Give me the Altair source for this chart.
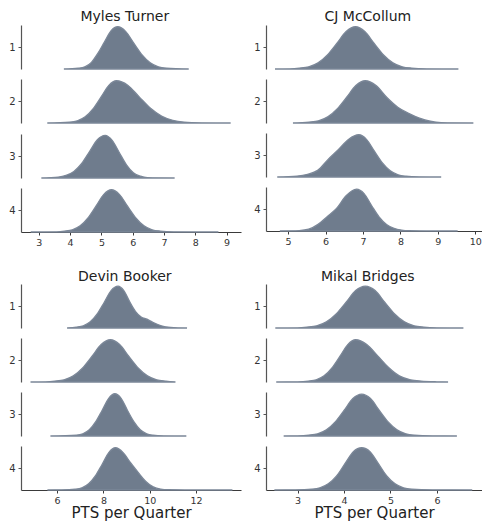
import altair as alt
import pandas as pd

QUARTERS = [1, 2, 3, 4]
PLAYERS = ["Myles Turner", "CJ McCollum", "Devin Booker", "Mikal Bridges"]

# ---- density curves (x = PTS, h = relative height in each row) ----
TURNER_X = [
    [3.80, 4.26, 4.47, 4.68, 4.89, 5.10, 5.31, 5.52, 5.78, 6.04, 6.30, 6.56, 6.82, 7.08, 7.79],
    [3.27, 3.98, 4.23, 4.48, 4.73, 4.98, 5.23, 5.48, 5.84, 6.20, 6.56, 6.92, 7.28, 7.64, 8.20, 9.13],
    [3.08, 3.62, 3.87, 4.12, 4.37, 4.62, 4.87, 5.12, 5.35, 5.57, 5.80, 6.02, 6.25, 6.47, 7.34],
    [2.74, 3.57, 3.82, 4.07, 4.32, 4.57, 4.82, 5.07, 5.32, 5.58, 5.84, 6.10, 6.36, 6.62, 6.88, 7.30, 8.74],
]
TURNER_H = [
    [0, 0.02, 0.05, 0.15, 0.36, 0.62, 0.87, 0.96, 0.85, 0.58, 0.32, 0.14, 0.05, 0.02, 0],
    [0, 0.02, 0.05, 0.14, 0.32, 0.58, 0.85, 0.96, 0.86, 0.60, 0.34, 0.16, 0.06, 0.02, 0.005, 0],
    [0, 0.02, 0.06, 0.15, 0.33, 0.60, 0.87, 0.97, 0.85, 0.58, 0.30, 0.12, 0.04, 0.01, 0],
    [0, 0.005, 0.02, 0.05, 0.14, 0.32, 0.58, 0.85, 0.96, 0.85, 0.58, 0.32, 0.14, 0.05, 0.02, 0.005, 0],
]

MCCOLLUM_X = [
    [4.65, 5.05, 5.30, 5.55, 5.80, 6.05, 6.30, 6.55, 6.80, 7.05, 7.30, 7.55, 7.80, 8.05, 8.30, 8.70, 9.55],
    [5.13, 5.56, 5.81, 6.06, 6.31, 6.56, 6.81, 7.06, 7.35, 7.64, 7.93, 8.22, 8.51, 8.80, 9.09, 9.95],
    [4.71, 5.24, 5.52, 5.79, 6.07, 6.34, 6.62, 6.89, 7.10, 7.31, 7.52, 7.73, 7.94, 8.15, 8.50, 9.09],
    [4.78, 5.30, 5.55, 5.80, 6.05, 6.30, 6.55, 6.83, 7.03, 7.23, 7.43, 7.63, 7.83, 8.03, 8.23, 8.70, 9.53],
]
MCCOLLUM_H = [
    [0, 0.005, 0.02, 0.05, 0.14, 0.32, 0.58, 0.85, 0.96, 0.85, 0.58, 0.32, 0.14, 0.05, 0.02, 0.005, 0],
    [0, 0.02, 0.05, 0.14, 0.32, 0.58, 0.85, 0.96, 0.85, 0.58, 0.36, 0.22, 0.11, 0.04, 0.01, 0],
    [0, 0.02, 0.06, 0.15, 0.40, 0.62, 0.86, 0.96, 0.85, 0.58, 0.32, 0.14, 0.05, 0.02, 0.005, 0],
    [0, 0.01, 0.04, 0.15, 0.33, 0.52, 0.80, 0.95, 0.85, 0.58, 0.32, 0.15, 0.06, 0.02, 0.006, 0.002, 0],
]

BOOKER_X = [
    [6.43, 6.83, 7.13, 7.43, 7.73, 8.03, 8.33, 8.63, 8.88, 9.13, 9.38, 9.63, 9.88, 10.13, 10.50, 10.90, 11.61],
    [4.85, 5.50, 5.90, 6.30, 6.70, 7.10, 7.50, 7.90, 8.30, 8.70, 9.10, 9.50, 9.90, 10.30, 10.70, 11.11],
    [5.71, 6.84, 7.11, 7.39, 7.66, 7.94, 8.22, 8.49, 8.77, 9.04, 9.32, 9.59, 9.87, 10.14, 10.60, 11.58],
    [5.58, 6.20, 6.78, 7.07, 7.36, 7.65, 7.94, 8.23, 8.52, 8.85, 9.17, 9.50, 9.82, 10.15, 10.47, 10.80, 11.50, 13.57],
]
BOOKER_H = [
    [0, 0.02, 0.05, 0.14, 0.32, 0.58, 0.85, 0.95, 0.85, 0.60, 0.38, 0.25, 0.20, 0.13, 0.05, 0.015, 0],
    [0, 0.005, 0.02, 0.05, 0.14, 0.32, 0.58, 0.85, 0.96, 0.85, 0.58, 0.32, 0.14, 0.05, 0.02, 0],
    [0, 0.02, 0.05, 0.14, 0.32, 0.58, 0.85, 0.96, 0.85, 0.58, 0.32, 0.14, 0.05, 0.02, 0.005, 0],
    [0, 0.003, 0.02, 0.05, 0.14, 0.32, 0.58, 0.85, 0.96, 0.85, 0.62, 0.40, 0.20, 0.07, 0.02, 0.006, 0.002, 0],
]

BRIDGES_X = [
    [2.52, 3.00, 3.20, 3.41, 3.62, 3.83, 4.04, 4.25, 4.46, 4.67, 4.88, 5.09, 5.30, 5.51, 5.72, 6.00, 6.57],
    [2.54, 3.00, 3.23, 3.40, 3.57, 3.74, 3.91, 4.08, 4.25, 4.49, 4.72, 4.96, 5.19, 5.43, 5.66, 6.00, 6.24],
    [2.70, 3.00, 3.24, 3.43, 3.62, 3.81, 4.00, 4.19, 4.38, 4.57, 4.76, 4.95, 5.14, 5.33, 5.52, 5.90, 6.43],
    [2.50, 2.95, 3.30, 3.48, 3.66, 3.84, 4.02, 4.20, 4.38, 4.56, 4.74, 4.92, 5.10, 5.28, 5.46, 5.90, 6.76],
]
BRIDGES_H = [
    [0, 0.005, 0.02, 0.05, 0.14, 0.32, 0.58, 0.85, 0.95, 0.85, 0.58, 0.32, 0.14, 0.05, 0.02, 0.005, 0],
    [0, 0.004, 0.02, 0.05, 0.14, 0.32, 0.58, 0.85, 0.96, 0.85, 0.60, 0.33, 0.14, 0.05, 0.02, 0.004, 0],
    [0, 0.004, 0.02, 0.05, 0.14, 0.32, 0.58, 0.85, 0.95, 0.85, 0.58, 0.32, 0.14, 0.05, 0.02, 0.004, 0],
    [0, 0.004, 0.02, 0.05, 0.14, 0.32, 0.60, 0.87, 0.96, 0.87, 0.60, 0.32, 0.14, 0.05, 0.02, 0.004, 0],
]

# x-axis domains and tick labels per panel
TURNER_DOMAIN = [2.43, 9.46]
MCCOLLUM_DOMAIN = [4.41, 10.18]
BOOKER_DOMAIN = [4.44, 13.94]
BRIDGES_DOMAIN = [2.32, 6.97]
TURNER_TICKS = [3, 4, 5, 6, 7, 8, 9]
MCCOLLUM_TICKS = [5, 6, 7, 8, 9, 10]
BOOKER_TICKS = [6, 8, 10, 12]
BRIDGES_TICKS = [3, 4, 5, 6]

X_TITLE = "PTS per Quarter"

FILL = "#6f7c8d"
EDGE = "#7b8798"
AXIS_COLOR = "#3a3a3a"
FONT = "DejaVu Sans"


def panel(name, xs, hs, domain, ticks, width, show_title):
    rows = []
    for q, xl, hl in zip(QUARTERS, xs, hs):
        assert len(xl) == len(hl)
        for x, h in zip(xl, hl):
            rows.append({"quarter": q, "pts": x, "density": h})
    df = pd.DataFrame(rows)

    charts = []
    for i, q in enumerate(QUARTERS):
        last = i == len(QUARTERS) - 1
        if last:
            axis_kw = dict(values=ticks, tickSize=3, labelFontSize=9.5, labelPadding=2,
                           labelColor="#333", domainColor=AXIS_COLOR, tickColor=AXIS_COLOR,
                           domainWidth=1.2, grid=False, labelFont=FONT)
            if show_title:
                axis_kw.update(title=X_TITLE, titleFontSize=15, titleFontWeight="normal",
                               titleColor="#222", titlePadding=1, titleFont=FONT)
            else:
                axis_kw.update(title=None)
            x_axis = alt.Axis(**axis_kw)
        else:
            x_axis = None
        c = (
            alt.Chart(df)
            .transform_filter(alt.datum.quarter == q)
            .mark_area(interpolate="monotone", color=FILL, stroke=EDGE, strokeWidth=1.3)
            .encode(
                x=alt.X("pts:Q", scale=alt.Scale(domain=domain, nice=False, zero=False),
                        axis=x_axis),
                y=alt.Y("density:Q", stack=None,
                        scale=alt.Scale(domain=[0, 1], nice=False),
                        axis=alt.Axis(title=None, values=[0.5], labelExpr=f"'{q}'",
                                      tickSize=3, labelFontSize=10, labelPadding=3,
                                      labelColor="#333", labelFont=FONT, grid=False,
                                      domainColor="#555", tickColor="#555",
                                      domainWidth=1.2)),
            )
            .properties(width=width, height=44)
        )
        charts.append(c)
    return alt.vconcat(*charts, spacing=6).properties(
        title=alt.TitleParams(name, fontSize=14, fontWeight="normal", anchor="middle",
                              font=FONT, color="#222", offset=0)
    )


p1 = panel(PLAYERS[0], TURNER_X, TURNER_H, TURNER_DOMAIN, TURNER_TICKS, 220, False)
p2 = panel(PLAYERS[1], MCCOLLUM_X, MCCOLLUM_H, MCCOLLUM_DOMAIN, MCCOLLUM_TICKS, 216, False)
p3 = panel(PLAYERS[2], BOOKER_X, BOOKER_H, BOOKER_DOMAIN, BOOKER_TICKS, 220, True)
p4 = panel(PLAYERS[3], BRIDGES_X, BRIDGES_H, BRIDGES_DOMAIN, BRIDGES_TICKS, 216, True)

chart = (
    alt.vconcat(
        alt.hconcat(p1, p2, spacing=12),
        alt.hconcat(p3, p4, spacing=12),
        spacing=22,
    )
    .properties(padding={"top": 2, "left": 0, "right": 0, "bottom": 0})
    .configure(font=FONT)
    .configure_view(strokeWidth=0)
)

chart.save("out.html", embed_options={"renderer": "svg", "actions": False})
